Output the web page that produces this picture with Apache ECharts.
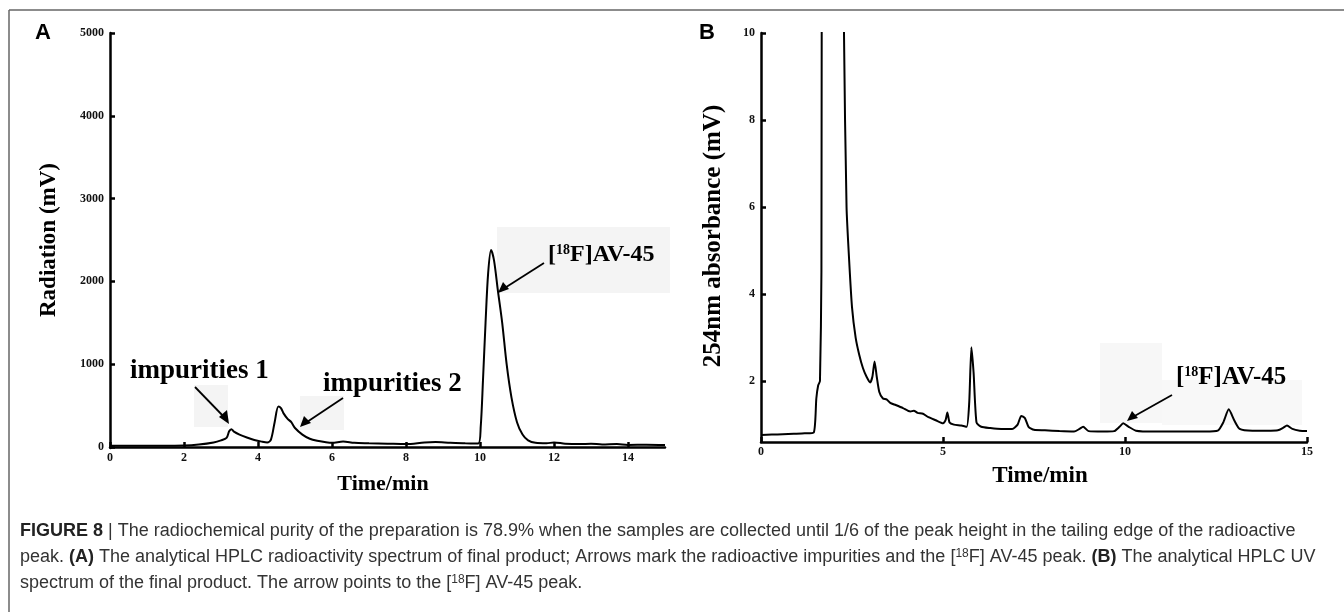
<!DOCTYPE html>
<html>
<head>
<meta charset="utf-8">
<script src="https://cdn.jsdelivr.net/npm/echarts@6/dist/echarts.min.js"></script>
<style>
html,body{margin:0;padding:0;background:#fff;}
#c{width:1344px;height:612px;}
</style>
</head>
<body>
<div id="c"></div>
<script>
// Panel A: radioactivity trace (time in min, radiation in mV)
const timeA = [0,0.5,1,1.5,2,2.4,2.8,3.0,3.15,3.22,3.28,3.35,3.5,3.7,3.9,4.1,4.25,4.35,4.45,4.55,4.62,4.7,4.8,4.9,5.0,5.2,5.4,5.6,5.8,6.0,6.3,6.6,7.0,7.5,8.0,8.5,8.8,9.2,9.6,9.95,10.02,10.08,10.15,10.22,10.3,10.38,10.48,10.6,10.72,10.85,11.0,11.15,11.3,11.5,11.8,12.0,12.3,12.7,13.0,13.3,13.7,14.0,14.5,15];
const valA  = [15,16,15,16,18,30,55,80,110,190,215,185,150,115,85,65,55,90,300,490,470,400,340,300,230,150,100,75,60,50,65,50,45,40,35,55,60,50,45,42,250,800,1500,2100,2380,2250,1900,1500,1000,600,300,150,80,50,45,55,40,35,40,30,35,25,28,25];
// Panel B: UV trace (time in min, absorbance in mV)
const timeB = [0,0.3,0.6,0.9,1.2,1.45,1.52,1.57,1.62,1.66,1.7,1.8,2.0,2.2,2.28,2.35,2.42,2.5,2.6,2.7,2.8,2.9,3.0,3.06,3.12,3.18,3.25,3.35,3.45,3.55,3.7,3.9,4.1,4.2,4.3,4.45,4.6,4.8,5.0,5.07,5.12,5.18,5.3,5.5,5.65,5.72,5.78,5.84,5.92,6.05,6.3,6.6,6.9,7.05,7.15,7.25,7.35,7.5,7.8,8.2,8.6,8.75,8.85,9.0,9.4,9.7,9.85,9.95,10.1,10.3,10.8,11.5,12.2,12.55,12.7,12.85,13.0,13.15,13.5,13.9,14.2,14.35,14.45,14.6,14.8,15];
const valB  = [0.76,0.77,0.78,0.79,0.80,0.82,1.6,1.9,2.0,4.5,30,40,40,30,10,6.0,4.8,3.7,3.0,2.6,2.3,2.1,1.97,2.1,2.45,2.1,1.75,1.6,1.58,1.5,1.45,1.38,1.3,1.32,1.27,1.25,1.17,1.1,1.03,1.1,1.28,1.05,1.0,0.98,0.95,1.5,2.78,2.2,1.05,0.95,0.92,0.9,0.9,1.0,1.2,1.15,0.95,0.88,0.87,0.85,0.84,0.9,0.95,0.85,0.84,0.85,0.95,1.03,0.95,0.86,0.84,0.84,0.84,0.86,1.05,1.35,1.1,0.9,0.86,0.86,0.87,0.93,0.98,0.9,0.86,0.85];
const yTicksA = [0,1000,2000,3000,4000,5000];
const xTicksA = [0,2,4,6,8,10,12,14];
const yTicksB = [2,4,6,8,10];
const xTicksB = [0,5,10,15];

const chart = echarts.init(document.getElementById('c'), null, {renderer:'canvas'});
const SERIF = '"Liberation Serif","DejaVu Serif",serif';
const SANS = '"Liberation Sans",Arial,sans-serif';
const tickLab = {fontFamily: SERIF, fontWeight:'bold', fontSize: 12, color:'#111', formatter:(v)=>String(v)};
const axLine = {show:true, lineStyle:{color:'#000', width:2.5}};
const axTick = (vals)=>({show:true, inside:true, length:5, customValues: vals, lineStyle:{color:'#000', width:2.5}});

const pairs = (t,v)=>t.map((x,i)=>[x,v[i]]);
const capRich = {
  b:{font:'bold 18px '+SANS, fill:'#222'},
  n:{font:'18px '+SANS, fill:'#333'},
  sup:{font:'12px '+SANS, fill:'#333', verticalAlign:'top'}
};

chart.setOption({
  animation:false,
  grid:[
    {left:110, top:33, width:555, height:415},
    {left:761, top:33, width:546, height:409}
  ],
  xAxis:[
    {type:'value', gridIndex:0, min:0, max:15, axisLine:axLine, axisTick:axTick(xTicksA),
     axisLabel:Object.assign({customValues:xTicksA, margin:4}, tickLab), splitLine:{show:false}},
    {type:'value', gridIndex:1, min:0, max:15, axisLine:axLine, axisTick:axTick(xTicksB),
     axisLabel:Object.assign({customValues:xTicksB, margin:4}, tickLab), splitLine:{show:false}}
  ],
  yAxis:[
    {type:'value', gridIndex:0, min:-12, max:5000, axisLine:axLine, axisTick:axTick(yTicksA),
     axisLabel:Object.assign({customValues:yTicksA, margin:6}, tickLab), splitLine:{show:false}},
    {type:'value', gridIndex:1, min:0.6, max:10, axisLine:axLine, axisTick:axTick(yTicksB),
     axisLabel:Object.assign({customValues:yTicksB, margin:6}, tickLab), splitLine:{show:false}}
  ],
  series:[
    {type:'line', xAxisIndex:0, yAxisIndex:0, data:pairs(timeA,valA), showSymbol:false, smooth:0.3,
     lineStyle:{color:'#000', width:2}, clip:true, z:3},
    {type:'line', xAxisIndex:1, yAxisIndex:1, data:pairs(timeB,valB), showSymbol:false, smooth:0.2,
     lineStyle:{color:'#000', width:2}, clip:true, z:3}
  ],
  graphic:[
    // frame
    {type:'line', shape:{x1:9,y1:10,x2:1344,y2:10}, style:{stroke:'#666', lineWidth:1.5}, z:1},
    {type:'line', shape:{x1:9,y1:10,x2:9,y2:612}, style:{stroke:'#666', lineWidth:1.5}, z:1},
    // panel letters
    {type:'text', left:35, top:22, style:{text:'A', font:'bold 22px '+SANS, fill:'#000'}},
    {type:'text', left:699, top:22, style:{text:'B', font:'bold 22px '+SANS, fill:'#000'}},
    // axis titles
    {type:'text', x:49, y:240, rotation:Math.PI/2, style:{text:'Radiation (mV)', font:'bold 23px '+SERIF, fill:'#000', align:'center', verticalAlign:'middle'}},
    {type:'text', x:714, y:236, rotation:Math.PI/2, style:{text:'254nm absorbance (mV)', font:'bold 25px '+SERIF, fill:'#000', align:'center', verticalAlign:'middle'}},
    {type:'text', x:383, y:484, style:{text:'Time/min', font:'bold 22px '+SERIF, fill:'#000', align:'center', verticalAlign:'middle'}},
    {type:'text', x:1040, y:476, style:{text:'Time/min', font:'bold 23px '+SERIF, fill:'#000', align:'center', verticalAlign:'middle'}},
    // light boxes behind annotations
    {type:'rect', shape:{x:497,y:227,width:173,height:66}, style:{fill:'#f4f4f4'}, z:0},
    {type:'rect', shape:{x:194,y:385,width:34,height:42}, style:{fill:'#f4f4f4'}, z:0},
    {type:'rect', shape:{x:300,y:396,width:44,height:34}, style:{fill:'#f4f4f4'}, z:0},
    {type:'rect', shape:{x:1100,y:343,width:62,height:80}, style:{fill:'#f7f7f7'}, z:0},
    {type:'rect', shape:{x:1162,y:380,width:140,height:45}, style:{fill:'#f8f8f8'}, z:0},
    // annotations A
    {type:'text', x:548, y:255, style:{text:'{s|[}{sup|18}{s|F]AV-45}', verticalAlign:'middle',
      rich:{s:{font:'bold 24px '+SERIF, fill:'#000'}, sup:{font:'bold 14px '+SERIF, fill:'#000', verticalAlign:'top'}}}, z:5},
    {type:'line', shape:{x1:544,y1:263,x2:500,y2:291}, style:{stroke:'#000', lineWidth:1.8}, z:5},
    {type:'polygon', shape:{points:[[498,293],[503,282],[509,289]]}, style:{fill:'#000'}, z:5},
    {type:'text', x:130, y:371, style:{text:'impurities 1', font:'bold 27px '+SERIF, fill:'#000', verticalAlign:'middle'}, z:5},
    {type:'line', shape:{x1:195,y1:387,x2:226,y2:419}, style:{stroke:'#000', lineWidth:1.8}, z:5},
    {type:'polygon', shape:{points:[[229,424],[219,417],[227,410]]}, style:{fill:'#000'}, z:5},
    {type:'text', x:323, y:384, style:{text:'impurities 2', font:'bold 27px '+SERIF, fill:'#000', verticalAlign:'middle'}, z:5},
    {type:'line', shape:{x1:343,y1:398,x2:304,y2:424}, style:{stroke:'#000', lineWidth:1.8}, z:5},
    {type:'polygon', shape:{points:[[300,427],[304,416],[311,423]]}, style:{fill:'#000'}, z:5},
    // annotation B
    {type:'text', x:1176, y:378, style:{text:'{s|[}{sup|18}{s|F]AV-45}', verticalAlign:'middle',
      rich:{s:{font:'bold 25px '+SERIF, fill:'#000'}, sup:{font:'bold 14px '+SERIF, fill:'#000', verticalAlign:'top'}}}, z:5},
    {type:'line', shape:{x1:1172,y1:395,x2:1131,y2:418}, style:{stroke:'#000', lineWidth:1.8}, z:5},
    {type:'polygon', shape:{points:[[1127,421],[1132,411],[1138,418]]}, style:{fill:'#000'}, z:5},
    // caption
    {type:'text', x:20, y:531, style:{verticalAlign:'middle', text:'{b|FIGURE 8}{n| | The radiochemical purity of the preparation is 78.9% when the samples are collected until 1/6 of the peak height in the tailing edge of the radioactive}', rich:capRich}},
    {type:'text', x:20, y:557, style:{verticalAlign:'middle', text:'{n|peak. }{b|(A)}{n| The analytical HPLC radioactivity spectrum of final product; Arrows mark the radioactive impurities and the [}{sup|18}{n|F] AV-45 peak. }{b|(B)}{n| The analytical HPLC UV}', rich:capRich}},
    {type:'text', x:20, y:583, style:{verticalAlign:'middle', text:'{n|spectrum of the final product. The arrow points to the [}{sup|18}{n|F] AV-45 peak.}', rich:capRich}}
  ]
});
</script>
</body>
</html>
